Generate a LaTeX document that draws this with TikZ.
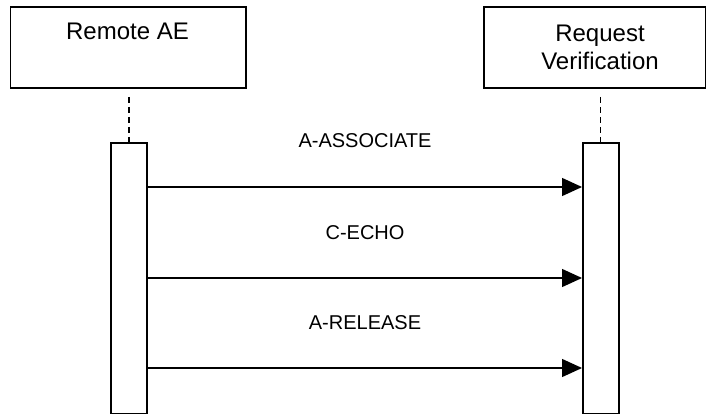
\documentclass[tikz,border=0pt]{standalone}
\usepackage{fontspec}
\setmainfont{Liberation Sans}
\usetikzlibrary{arrows.meta}
\begin{document}
\begin{tikzpicture}[x=1pt,y=-1pt,
  box/.style={draw=black, line width=1.6pt, fill=white, inner sep=0pt, anchor=north west},
  boxtext/.style={inner sep=0pt, align=center, font=\fontsize{24}{28}\selectfont},
  bar/.style={draw=black, line width=1.6pt, fill=white, inner sep=0pt, anchor=north west},
  lifeline/.style={draw=black, line width=1.2pt, dash pattern=on 6pt off 4pt},
  msg/.style={draw=black, line width=1.3pt, -{Triangle[length=20pt,width=18pt]}},
  msgtext/.style={inner sep=0pt, anchor=base, font=\fontsize{20}{24}\selectfont}]
\useasboundingbox[fill=white] (0,0) rectangle (706,414);
% participant boxes
\node[box, minimum width=235.5pt, minimum height=81pt] (ae) at (9.5,6) {};
\node[boxtext, anchor=north] (aetext) at (127.5,22.8) {Remote AE};
\node[box, minimum width=222pt, minimum height=81pt] (rv) at (483,6) {};
\node[boxtext, anchor=north] (rvtext) at (600,25) {Request\\Verification};
% activation bars
\node[bar, minimum width=36pt, minimum height=271pt] (aebar) at (110,142) {};
\node[bar, minimum width=36pt, minimum height=271pt] (rvbar) at (582,142) {};
% lifelines
\coordinate (aell) at (129,97);
\coordinate (rvll) at (600.5,97);
\draw[lifeline] (aell) -- (aell |- aebar.north);
\draw[lifeline] (rvll) -- (rvll |- rvbar.north);
% messages
\coordinate (m1) at (0,187);
\coordinate (m2) at (0,278);
\coordinate (m3) at (0,368);
\draw[msg] (aebar.east |- m1) -- (rvbar.west |- m1);
\draw[msg] (aebar.east |- m2) -- (rvbar.west |- m2);
\draw[msg] (aebar.east |- m3) -- (rvbar.west |- m3);
\node[msgtext] (l1) at (365,148) {A-ASSOCIATE};
\node[msgtext] (l2) at (365,239) {C-ECHO};
\node[msgtext] (l3) at (365,329) {A-RELEASE};
\end{tikzpicture}
\end{document}
